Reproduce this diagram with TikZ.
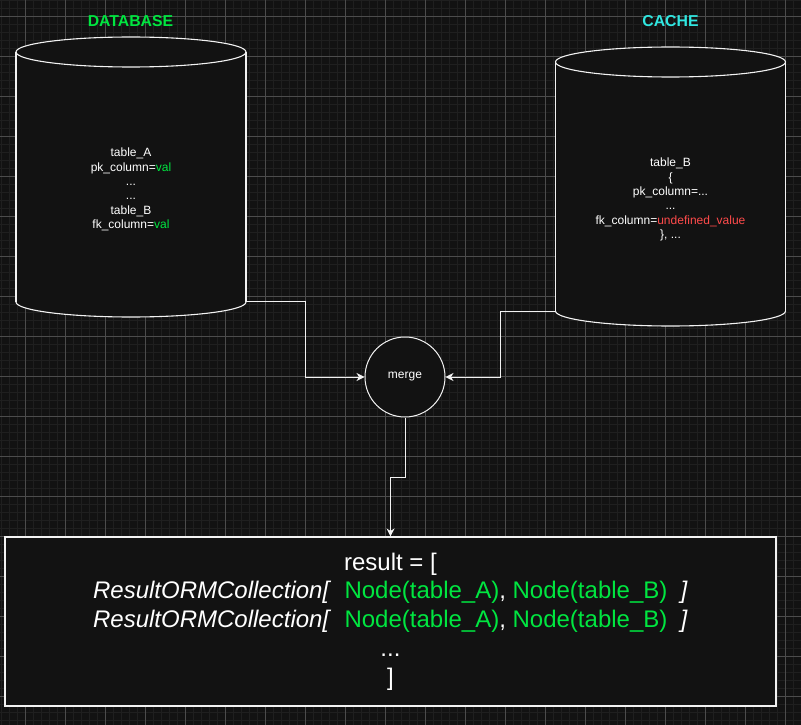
\documentclass[tikz,border=0pt]{standalone}
\usepackage{fontspec}
\setmainfont{Liberation Sans}
\usetikzlibrary{arrows.meta}

\definecolor{canvas}{HTML}{121212}
\definecolor{gridminor}{HTML}{1F1F1F}
\definecolor{gridmajor}{HTML}{4C4C4C}
\definecolor{edge}{HTML}{F2F2F2}
\definecolor{okgreen}{HTML}{00E640}
\definecolor{titlecyan}{HTML}{30E6E0}
\definecolor{badred}{HTML}{FF4B4B}

\tikzset{
  minorline/.style={draw=gridminor, line width=0.8pt},
  majorline/.style={draw=gridmajor, line width=0.8pt},
  outline/.style={draw=edge, line width=1.1pt},
  cylfill/.style={fill=canvas},
  title/.style={font=\fontsize{15.8}{18}\selectfont\bfseries, inner sep=0pt},
  cyltext/.style={font=\fontsize{12}{14.4}\selectfont, text=white, align=center, inner sep=0pt},
  flow/.style={draw=edge, line width=1pt, -{Stealth[length=8pt, width=8pt, inset=2.5pt]}},
  mergenode/.style={circle, draw=edge, line width=1pt, fill=canvas, minimum size=80pt,
    inner sep=0pt, text=white, font=\fontsize{12}{14.4}\selectfont},
  resultbox/.style={rectangle, draw=edge, line width=1.1pt, fill=canvas, minimum width=771pt,
    minimum height=169pt, inner sep=0pt},
  resulttext/.style={font=\fontsize{24}{28.8}\selectfont, text=white, align=center, inner sep=0pt}
}

% cylinder: centre x, y of top ellipse, y of bottom ellipse
\newcommand\drawcyl[3]{%
  \fill[cylfill] ({#1-115},#2) rectangle ({#1+115},#3);
  \fill[cylfill] (#1,#3) ellipse [x radius=115, y radius=15];
  \fill[cylfill] (#1,#2) ellipse [x radius=115, y radius=15];
  \begin{scope}
    \clip ({#1-130},#3) rectangle ({#1+130},{#3+20});
    \draw[outline] (#1,#3) ellipse [x radius=115, y radius=15];
  \end{scope}
  \draw[outline] ({#1-115},#2) -- ({#1-115},#3);
  \draw[outline] ({#1+115},#2) -- ({#1+115},#3);
  \draw[outline] (#1,#2) ellipse [x radius=115, y radius=15];
}

\begin{document}
\begin{tikzpicture}[x=1pt, y=-1pt]
  \useasboundingbox (0,0) rectangle (801,725);
  \fill[canvas] (0,0) rectangle (801,725);

  % background grid
  \foreach \gx in {1,9,...,801} \draw[minorline] (\gx,0) -- (\gx,725);
  \foreach \gy in {0,8,...,725} \draw[minorline] (0,\gy) -- (801,\gy);
  \foreach \gx in {25,65,...,801} \draw[majorline] (\gx,0) -- (\gx,725);
  \foreach \gy in {16,56,...,725} \draw[majorline] (0,\gy) -- (801,\gy);

  % titles
  \node[title, text=okgreen] (dbtitle) at (130.5,21) {DATABASE};
  \node[title, text=titlecyan] (cachetitle) at (670.5,21) {CACHE};

  % stores
  \drawcyl{131}{52}{302}
  \drawcyl{670.5}{62}{311}

  \node[cyltext] (dbtext) at (131,189.5) {table\_A\\pk\_column={\color{okgreen}val}\\...\\...\\table\_B\\fk\_column={\color{okgreen}val}};
  \node[cyltext] (cachetext) at (670.5,199.5) {table\_B\\\{\\pk\_column=...\\...\\fk\_column={\color{badred}undefined\_value}\\\}, ...};

  \coordinate (dbout) at (246,301);
  \coordinate (cacheout) at (555.5,311);

  % merge step
  \node[mergenode] (merge) at (405,377) {merge};

  % result
  \node[resultbox] (result) at (390.5,621.5) {};
  \node[resulttext] (resulttxt) at (390.5,621.5) {result = [\\
    \textit{ResultORMCollection[}\ \ {\color{okgreen}Node(table\_A)}, {\color{okgreen}Node(table\_B)}\ \ \textit{]}\\
    \textit{ResultORMCollection[}\ \ {\color{okgreen}Node(table\_A)}, {\color{okgreen}Node(table\_B)}\ \ \textit{]}\\
    ...\\
    ]};

  % connectors
  \draw[flow] (dbout) -- ++(59,0) |- (merge.west);
  \draw[flow] (cacheout) -- ++(-55,0) |- (merge.east);
  \draw[flow] (merge.south) -- ++(0,60) -| (result.north);
\end{tikzpicture}
\end{document}
